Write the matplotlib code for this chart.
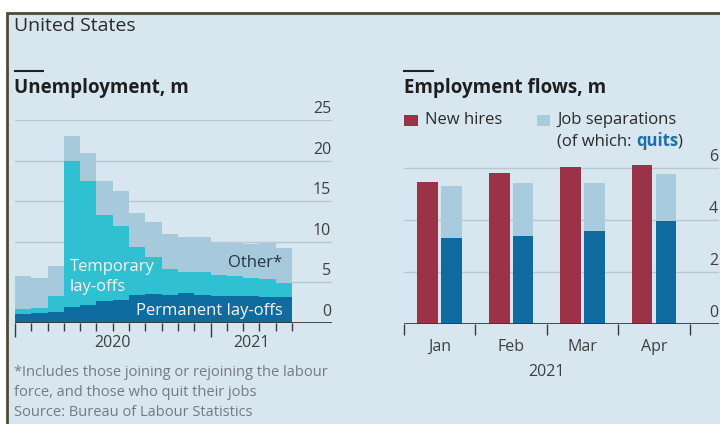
import matplotlib
matplotlib.use('Agg')
import matplotlib.pyplot as plt
import matplotlib.transforms as mtransforms
from matplotlib.patches import Rectangle
from matplotlib.lines import Line2D
from matplotlib.ticker import FixedLocator, NullLocator
import numpy as np

plt.rcParams['font.family'] = ['Open Sans', 'DejaVu Sans']

# Unemployment by reason, millions, Jan 2020 - May 2021
unemp_months = ['2020-01', '2020-02', '2020-03', '2020-04', '2020-05', '2020-06',
                '2020-07', '2020-08', '2020-09', '2020-10', '2020-11', '2020-12',
                '2021-01', '2021-02', '2021-03', '2021-04', '2021-05']
permanent = [1.15, 1.2, 1.4, 1.95, 2.25, 2.75, 2.8, 3.4, 3.55, 3.45, 3.7, 3.4,
             3.3, 3.3, 3.3, 3.25, 3.2]
temporary = [0.6, 0.6, 1.95, 18.05, 15.25, 10.55, 9.1, 6.0, 4.55, 3.2, 2.6, 2.85,
             2.6, 2.5, 2.25, 2.15, 1.7]
other = [4.0, 3.75, 3.7, 3.0, 3.4, 4.2, 4.3, 4.1, 4.3, 4.35, 4.35, 4.4,
         4.1, 4.1, 4.15, 4.4, 4.3]
unemp_yticks = [0, 5, 10, 15, 20, 25]
unemp_years = ['2020', '2021']

# Employment flows, millions, 2021
flow_months = ['Jan', 'Feb', 'Mar', 'Apr']
new_hires = [5.46, 5.80, 6.02, 6.10]
separations = [5.31, 5.43, 5.44, 5.76]
quits = [3.30, 3.39, 3.58, 3.96]
flow_yticks = [0, 2, 4, 6]

# colours
bg = '#d7e6ef'
border = '#4d4b37'
grid_c = '#b9c7d0'
axis_c = '#3a3a3a'
label_c = '#3f3f3f'
note_c = '#737a80'
c_perm = '#0f6ca0'
c_temp = '#2fc0d2'
c_other = '#a6c9dc'
c_hires = '#9b3348'
c_seps = '#a8cbde'
c_quits = '#0f6a9f'

W, H = 720, 424
fig = plt.figure(figsize=(W / 100, H / 100), dpi=100, facecolor='white')


def box(left, top, right, bottom):
    return [left / W, 1 - bottom / H, (right - left) / W, (bottom - top) / H]


def fx(px):
    return px / W


def fy(py):
    return 1 - py / H


# panel background with the dark rule on top and left
fig.add_artist(Rectangle((fx(7), -0.2), 1.5, fy(13) + 0.2, transform=fig.transFigure,
                         facecolor=bg, edgecolor=border, linewidth=2, zorder=0))

fig.text(fx(14), fy(26), 'United States', fontsize=14, color='#2a2a2a',
         ha='left', va='center')

# ---------- left: unemployment ----------
ax1 = fig.add_axes(box(15, 120, 332, 323))
ax1.set_facecolor('none')
x = np.arange(len(unemp_months))
perm = np.array(permanent)
temp = np.array(temporary)
oth = np.array(other)
ax1.bar(x, perm, width=1.0, color=c_perm, linewidth=0, zorder=2)
ax1.bar(x, temp, width=1.0, bottom=perm, color=c_temp, linewidth=0, zorder=2)
ax1.bar(x, oth, width=1.0, bottom=perm + temp, color=c_other, linewidth=0, zorder=2)
ax1.set_xlim(-0.5, 18.95)
ax1.set_ylim(0, 25)
for v in unemp_yticks[1:]:
    ax1.axhline(v, color=grid_c, lw=1, zorder=1)
ax1.axhline(0, color=axis_c, lw=1.3, zorder=3)
for s in ax1.spines.values():
    s.set_visible(False)
ax1.yaxis.set_major_locator(NullLocator())
bounds = np.arange(len(unemp_months) + 1) - 0.5
ax1.xaxis.set_major_locator(FixedLocator([bounds[0], bounds[12]]))
ax1.xaxis.set_minor_locator(FixedLocator([b for i, b in enumerate(bounds) if i not in (0, 12)]))
ax1.tick_params(axis='x', which='major', length=10, width=1, color=axis_c, labelbottom=False)
ax1.tick_params(axis='x', which='minor', length=6, width=1, color=axis_c)

ylab1 = mtransforms.offset_copy(ax1.get_yaxis_transform(), fig=fig, x=-1, y=3, units='dots')
for v in unemp_yticks:
    ax1.text(1.0, v, str(v), transform=ylab1, ha='right', va='bottom',
             fontsize=11.5, color=label_c)

for yr, xc in zip(unemp_years, [5.5, 14.0]):
    ax1.annotate(yr, xy=(xc, 0), xytext=(0, -20), textcoords='offset pixels',
                 ha='center', va='center', fontsize=11.5, color=label_c)

ax1.text(2.87, 6.9, 'Temporary', ha='left', va='center', fontsize=12, color='#eef9fb', zorder=4)
ax1.text(2.87, 4.45, 'lay-offs', ha='left', va='center', fontsize=12, color='#eef9fb', zorder=4)
ax1.text(15.9, 1.5, 'Permanent lay-offs', ha='right', va='center', fontsize=12,
         color='#eef9fb', zorder=4)
ax1.text(15.9, 7.4, 'Other*', ha='right', va='center', fontsize=12, color='#243642', zorder=4)

fig.add_artist(Line2D([fx(15), fx(43)], [fy(71), fy(71)], color='#222222', lw=1.5))
fig.text(fx(14), fy(88), 'Unemployment, m', fontsize=13.5, fontweight='bold',
         color='#1e1e1e', ha='left', va='center')

fig.text(fx(14), fy(372), '*Includes those joining or rejoining the labour',
         fontsize=10.5, color=note_c, ha='left', va='center')
fig.text(fx(14), fy(392), 'force, and those who quit their jobs',
         fontsize=10.5, color=note_c, ha='left', va='center')
fig.text(fx(14), fy(412), 'Source: Bureau of Labour Statistics',
         fontsize=10.5, color=note_c, ha='left', va='center')

# ---------- right: employment flows ----------
ax2 = fig.add_axes(box(404, 160.2, 719, 324))
ax2.set_facecolor('none')
xm = np.arange(len(flow_months))
bw = 0.29
off = 0.168
ax2.bar(xm - off, new_hires, width=bw, color=c_hires, linewidth=0, zorder=2)
ax2.bar(xm + off, separations, width=bw, color=c_seps, linewidth=0, zorder=2)
ax2.bar(xm + off, quits, width=bw, color=c_quits, linewidth=0, zorder=2)
ax2.set_xlim(-0.5, 3.91)
ax2.set_ylim(0, 6.3)
for v in flow_yticks[1:]:
    ax2.axhline(v, color=grid_c, lw=1, zorder=1)
ax2.axhline(0, color=axis_c, lw=1.3, zorder=3)
for s in ax2.spines.values():
    s.set_visible(False)
ax2.yaxis.set_major_locator(NullLocator())
ax2.xaxis.set_major_locator(FixedLocator(np.arange(len(flow_months) + 1) - 0.5))
ax2.tick_params(axis='x', which='major', length=8, width=1, color=axis_c, labelbottom=False)

for m, xc in zip(flow_months, xm):
    ax2.annotate(m, xy=(xc, 0), xytext=(0, -23), textcoords='offset pixels',
                 ha='center', va='center', fontsize=11.5, color=label_c)

ylab2 = mtransforms.offset_copy(ax2.get_yaxis_transform(), fig=fig, x=-1, y=3, units='dots')
for v in flow_yticks:
    ax2.text(1.0, v, str(v), transform=ylab2, ha='right', va='bottom',
             fontsize=11.5, color=label_c)
ax2.annotate('2021', xy=(1.5, 0), xytext=(0, -48), textcoords='offset pixels',
             ha='center', va='center', fontsize=11.5, color=label_c)

fig.add_artist(Line2D([fx(404), fx(433)], [fy(71), fy(71)], color='#222222', lw=1.5))
fig.text(fx(404), fy(88), 'Employment flows, m', fontsize=13.5, fontweight='bold',
         color='#1e1e1e', ha='left', va='center')

# legend
fig.add_artist(Rectangle((fx(404), fy(126)), 14 / W, 11 / H, transform=fig.transFigure,
                         facecolor=c_hires, edgecolor='none'))
fig.add_artist(Rectangle((fx(537), fy(126)), 13 / W, 11 / H, transform=fig.transFigure,
                         facecolor=c_seps, edgecolor='none'))
fig.text(fx(425), fy(120), 'New hires', fontsize=12, color='#2a2a2a', ha='left', va='center')
fig.text(fx(557), fy(120), 'Job separations', fontsize=12, color='#2a2a2a', ha='left', va='center')

renderer = fig.canvas.get_renderer()
t1 = fig.text(fx(557), fy(146), '(of which: ', fontsize=12, color='#2a2a2a',
              ha='left', va='baseline')
x_next = t1.get_window_extent(renderer).x1
t2 = fig.text(x_next / W, fy(146), 'quits', fontsize=12, fontweight='bold', color='#1a72aa',
              ha='left', va='baseline')
x_next = t2.get_window_extent(renderer).x1
fig.text(x_next / W, fy(146), ')', fontsize=12, color='#2a2a2a', ha='left', va='baseline')

fig.savefig('out.png', dpi=100, facecolor='white')
